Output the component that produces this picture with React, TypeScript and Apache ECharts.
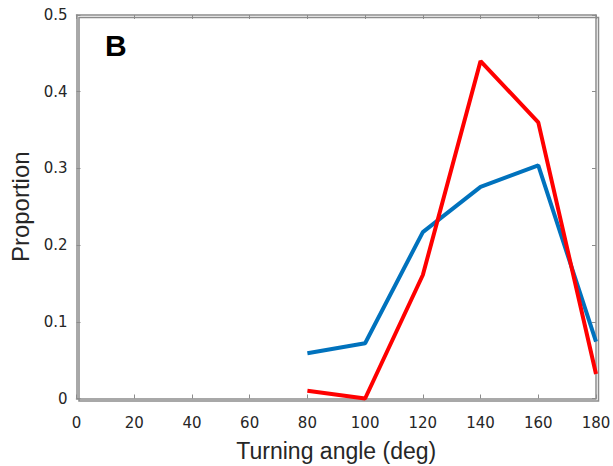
import React, { useEffect, useRef } from "react";
import * as echarts from "echarts";

const angles = [80, 100, 120, 140, 160, 180];
const blueSeries = [0.059, 0.072, 0.217, 0.276, 0.304, 0.074];
const redSeries = [0.01, 0.0, 0.161, 0.44, 0.36, 0.032];

export default function App() {
  const ref = useRef<HTMLDivElement>(null);
  useEffect(() => {
    document.body.style.margin = "0";
    const chart = echarts.init(ref.current!, null, { renderer: "svg" });
    const mkLine = () => ({ show: true, onZero: false, lineStyle: { color: "#8c8c8c", width: 1.5 } });
    const mkTick = () => ({ show: true, inside: true, length: 4, lineStyle: { color: "#8c8c8c", width: 1 } });
    const labelFont = { fontFamily: "DejaVu Sans", fontSize: 15, color: "#262626" };
    const nameFont = { fontFamily: "'Liberation Sans', Arial, sans-serif", color: "#262626" };
    chart.setOption({
      animation: false,
      backgroundColor: "#ffffff",
      grid: {
        left: 76.5, top: 15, width: 519.5, height: 383.5,
        containLabel: false, outerBoundsMode: "none",
      },
      xAxis: [
        {
          type: "value", min: 0, max: 180, interval: 20, position: "bottom",
          axisLine: mkLine(), splitLine: { show: false }, axisTick: mkTick(),
          axisLabel: { ...labelFont, margin: 17 },
          name: "Turning angle (deg)", nameLocation: "middle", nameGap: 41,
          nameTextStyle: { ...nameFont, fontSize: 23 },
        },
        {
          type: "value", min: 0, max: 180, interval: 20, position: "top", show: true,
          axisLine: mkLine(), splitLine: { show: false }, axisTick: mkTick(),
          axisLabel: { show: false },
        },
      ],
      yAxis: [
        {
          type: "value", min: 0, max: 0.5, interval: 0.1, position: "left",
          axisLine: mkLine(), splitLine: { show: false }, axisTick: mkTick(),
          axisLabel: { ...labelFont, margin: 9 },
          name: "Proportion", nameLocation: "middle", nameGap: 44, nameRotate: 90,
          nameTextStyle: { ...nameFont, fontSize: 24 },
        },
        {
          type: "value", min: 0, max: 0.5, interval: 0.1, position: "right", show: true,
          axisLine: mkLine(), splitLine: { show: false }, axisTick: mkTick(),
          axisLabel: { show: false },
        },
      ],
      graphic: [
        {
          type: "rect", left: 76.5, top: 15, silent: true, z: -1,
          shape: { width: 519.5, height: 383.5 },
          style: { fill: "none", stroke: "#8c8c8c", lineWidth: 1.5 },
        },
        {
          type: "text", left: 105, top: 30,
          style: { text: "B", font: "bold 30px 'Liberation Sans', Arial, sans-serif", fill: "#000" },
        },
      ],
      series: [
        {
          type: "line", name: "blue", data: angles.map((a, i) => [a, blueSeries[i]]),
          xAxisIndex: 0, yAxisIndex: 0,
          showSymbol: false, symbol: "none",
          lineStyle: { color: "#0072BD", width: 4 }, itemStyle: { color: "#0072BD" },
          clip: false,
        },
        {
          type: "line", name: "red", data: angles.map((a, i) => [a, redSeries[i]]),
          xAxisIndex: 1, yAxisIndex: 1,
          showSymbol: false, symbol: "none",
          lineStyle: { color: "#FF0000", width: 4 }, itemStyle: { color: "#FF0000" },
          clip: false,
        },
      ],
    });
    return () => chart.dispose();
  }, []);
  return (
    <div
      ref={ref}
      style={{ position: "absolute", left: 0, top: 0, width: 613, height: 466 }}
    />
  );
}
